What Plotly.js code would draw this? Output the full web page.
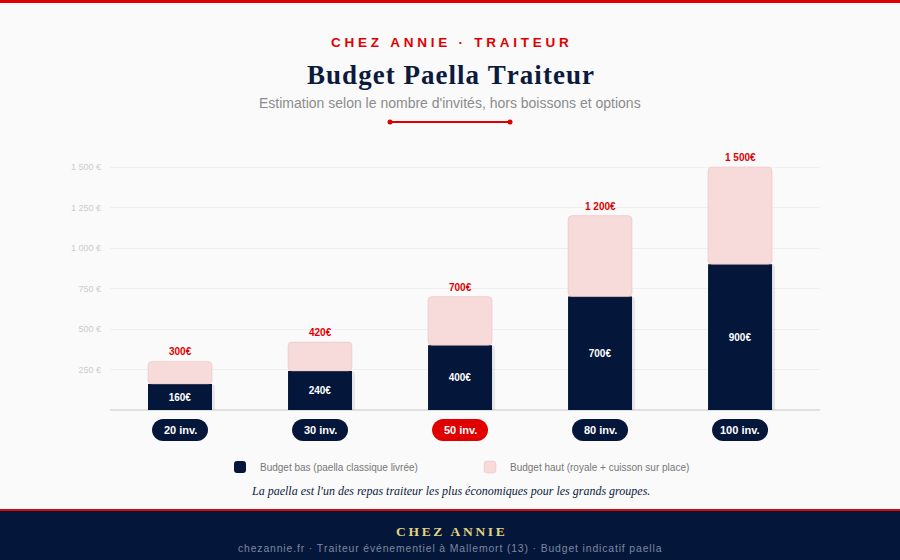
<!DOCTYPE html>
<html>
<head>
<meta charset="utf-8">
<script src="https://cdn.plot.ly/plotly-3.0.1.min.js"></script>
<style>
html,body{margin:0;padding:0;background:#fafafa;}
#chart{width:900px;height:560px;}
</style>
</head>
<body>
<div id="chart"></div>
<script>
// ---- data ----
const categories = ['20 inv.', '30 inv.', '50 inv.', '80 inv.', '100 inv.'];
const budgetBas = [160, 240, 400, 700, 900];
const budgetHaut = [300, 420, 700, 1200, 1500];
const yTickVals = [250, 500, 750, 1000, 1250, 1500];
const yTickText = ['250 €', '500 €', '750 €', '1 000 €', '1 250 €', '1 500 €'];
const highlightCategory = '50 inv.';
const seriesNames = ['Budget bas (paella classique livrée)', 'Budget haut (royale + cuisson sur place)'];

// ---- styling ----
const NAVY = '#04173b';
const RED = '#e00000';
const PINK = '#f7dbdb';
const W = 900, H = 560, L = 110, R = 80, T = 150, B = 150;
const PW = W - L - R, PH = H - T - B;
const fx = px => (px - L) / PW;
const fy = py => (H - B - py) / PH;
const spaced = s => s.split('').map(c => c === ' ' ? '\u00a0' : c).join('\u00a0');
const hair = s => s.split('').join('\u200a');
const hairSmall = (s, fs) => s.split('').join('<span style="font-size:' + fs + 'px">\u200a</span>');
const fmt = v => String(v).replace(/\B(?=(\d{3})+(?!\d))/g, ' ') + '€';

const xIdx = categories.map((c, i) => i);
const diff = budgetHaut.map((h, i) => h - budgetBas[i]);
const BW = 0.457;

const traces = [
  { // shadow
    type: 'bar', x: xIdx, y: budgetBas, width: BW, offset: -BW / 2 + 0.022,
    marker: { color: 'rgba(0,0,0,0.07)', cornerradius: 4 },
    showlegend: false, hoverinfo: 'skip'
  },
  {
    type: 'bar', name: seriesNames[0], x: xIdx, y: budgetBas, width: BW,
    marker: { color: NAVY, cornerradius: 4 },
    text: budgetBas.map(fmt), textposition: 'inside', insidetextanchor: 'middle',
    textangle: 0, textfont: { color: '#ffffff', size: 10, family: 'Liberation Sans, Arial', weight: 700 },
    hoverinfo: 'skip'
  },
  {
    type: 'bar', name: seriesNames[1], x: xIdx, y: diff, base: budgetBas, width: BW,
    marker: { color: PINK, cornerradius: 4, line: { color: 'rgba(235,170,170,0.35)', width: 1 } },
    hoverinfo: 'skip'
  }
];

const annotations = [];
// top labels
budgetHaut.forEach((v, i) => annotations.push({
  x: i, y: v, xref: 'x', yref: 'y', text: fmt(v), showarrow: false, yanchor: 'bottom', yshift: 2,
  font: { color: RED, size: 10, family: 'Liberation Sans, Arial', weight: 700 }
}));
// category pill texts
categories.forEach((c, i) => annotations.push({
  x: i, y: 0, xref: 'x', yref: 'y', text: c, showarrow: false, yshift: -20, yanchor: 'middle',
  font: { color: '#ffffff', size: 11, family: 'Liberation Sans, Arial', weight: 700 }
}));
// header texts
const textAnn = (text, px, py, font) => ({ text, x: fx(px), y: fy(py), xref: 'paper', yref: 'paper', showarrow: false, xanchor: 'center', yanchor: 'middle', font });
annotations.push(textAnn(spaced('CHEZ ANNIE · TRAITEUR'), 450, 43, { family: 'Liberation Sans, Arial', size: 13.5, color: RED, weight: 700 }));
annotations.push(textAnn(hairSmall('Budget Paella Traiteur', 12), 450, 75, { family: 'Liberation Serif, Times New Roman, serif', size: 27, color: '#0b1a3d', weight: 700 }));
annotations.push(textAnn("Estimation selon le nombre d'invités, hors boissons et options", 450, 103, { family: 'Liberation Sans, Arial', size: 14, color: '#8c8c8c' }));
annotations.push(textAnn('<i>La paella est l\'un des repas traiteur les plus économiques pour les grands groupes.</i>', 450, 491, { family: 'Liberation Serif, Times New Roman, serif', size: 12, color: '#0b1a3d' }));
annotations.push(textAnn('CHEZ\u2009ANNIE'.split('').join('\u2009'), 450, 531, { family: 'Liberation Serif, Times New Roman, serif', size: 13.5, color: '#e3d47e', weight: 700 }));
annotations.push(textAnn(hair('chezannie.fr · Traiteur événementiel à Mallemort (13) · Budget indicatif paella'), 450, 548, { family: 'Liberation Sans, Arial', size: 10.4, color: '#7d879e' }));

const shapes = [];
// pills
const pill = 'M -17 -9 L 17 -9 C 23 -9 28 -14 28 -20 C 28 -26 23 -31 17 -31 L -17 -31 C -23 -31 -28 -26 -28 -20 C -28 -14 -23 -9 -17 -9 Z';
categories.forEach((c, i) => shapes.push({
  type: 'path', xref: 'x', yref: 'paper', xsizemode: 'pixel', ysizemode: 'pixel', xanchor: i, yanchor: 0,
  path: pill, fillcolor: c === highlightCategory ? RED : NAVY, line: { width: 0 }, layer: 'above'
}));
// top red border
shapes.push({ type: 'rect', xref: 'paper', yref: 'paper', x0: fx(0), x1: fx(W), y0: fy(3), y1: fy(0), fillcolor: RED, line: { width: 0 } });
// decorative line under subtitle
shapes.push({ type: 'line', xref: 'paper', yref: 'paper', x0: fx(390), x1: fx(510), y0: fy(122), y1: fy(122), line: { color: RED, width: 2 } });
[390, 510].forEach(px => shapes.push({ type: 'circle', xref: 'paper', yref: 'paper', x0: fx(px - 2.5), x1: fx(px + 2.5), y0: fy(124.5), y1: fy(119.5), fillcolor: RED, line: { width: 0 } }));
// footer
shapes.push({ type: 'rect', xref: 'paper', yref: 'paper', x0: fx(0), x1: fx(W), y0: fy(H), y1: fy(511), fillcolor: '#04173b', line: { width: 0 } });
shapes.push({ type: 'rect', xref: 'paper', yref: 'paper', x0: fx(0), x1: fx(W), y0: fy(511), y1: fy(509), fillcolor: '#d40a0a', line: { width: 0 } });

const layout = {
  width: W, height: H,
  margin: { l: L, r: R, t: T, b: B, pad: 0 },
  paper_bgcolor: '#fafafa', plot_bgcolor: '#fafafa',
  barmode: 'overlay',
  hovermode: false,
  font: { family: 'Liberation Sans, Arial', color: '#777' },
  xaxis: {
    type: 'category', range: [-0.5, 4.571], showticklabels: false, showgrid: false, zeroline: false,
    ticks: '', fixedrange: true
  },
  yaxis: {
    range: [0, 1605], tickvals: yTickVals, ticktext: yTickText, ticks: '',
    tickfont: { size: 9, color: '#cccccc' }, gridcolor: '#efefef', gridwidth: 1,
    zeroline: true, zerolinecolor: '#e0e0e0', zerolinewidth: 2, ticklabelstandoff: 8, fixedrange: true
  },
  legend: {
    orientation: 'h', xref: 'container', yref: 'container', x: 220 / W, y: 1 - 467 / H,
    xanchor: 'left', yanchor: 'middle', entrywidth: 205, entrywidthmode: 'pixels',
    font: { size: 10, color: '#777777' }, bgcolor: 'rgba(0,0,0,0)', traceorder: 'normal'
  },
  annotations, shapes
};

Plotly.newPlot('chart', traces, layout, { displayModeBar: false, staticPlot: true });
</script>
</body>
</html>
